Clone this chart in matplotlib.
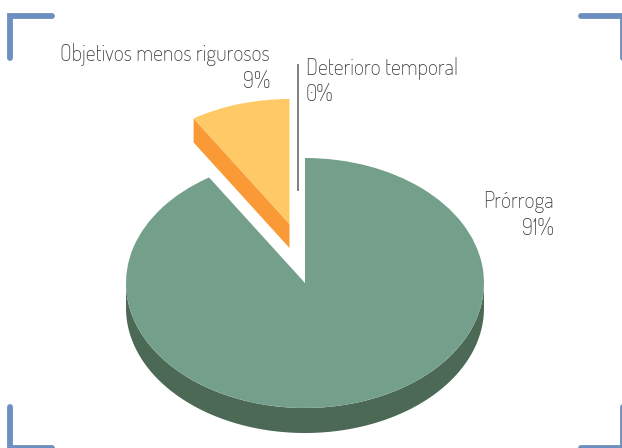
import numpy as np
import matplotlib
matplotlib.use('Agg')
import matplotlib.pyplot as plt
from matplotlib.patches import Wedge, Polygon
from matplotlib.transforms import Affine2D

categories = ['Prórroga', 'Objetivos menos rigurosos', 'Deterioro temporal']
values = [91, 9, 0]
labels = ['91%', '9%', '0%']

W, H = 622, 448
RX, RY, DEPTH = 179, 125, 25
GREEN, GREEN_DARK = '#739F8B', '#4B6955'
YELLOW, ORANGE = '#FFC966', '#FA9A37'
BLUE = '#6E8FC0'
TEXT = '#404040'

plt.rcParams['font.family'] = ['Dosis', 'Lato', 'DejaVu Sans']
fig = plt.figure(figsize=(W / 100, H / 100), dpi=100)
ax = fig.add_axes([0, 0, 1, 1])
ax.set_xlim(0, W)
ax.set_ylim(H, 0)
ax.axis('off')


def pt(cx, cy, angle):
    a = np.radians(angle)
    return np.column_stack([cx + RX * np.cos(a), cy - RY * np.sin(a)])


def top_face(cx, cy, t1, t2, color):
    # unit wedge stretched into the ellipse, y flipped because the axis runs down
    tr = Affine2D().scale(RX, -RY).translate(cx, cy) + ax.transData
    ax.add_patch(Wedge((0, 0), 1, t1, t2, transform=tr, fc=color, ec='none', zorder=3))


def side_arc(cx, cy, t1, t2, color):
    t = np.linspace(t1, t2, 200)
    up = pt(cx, cy, t)
    low = up[::-1] + [0, DEPTH]
    ax.add_patch(Polygon(np.vstack([up, low]), fc=color, ec='none', zorder=2))


# angles run counter clockwise, first slice ends at 12 o'clock
sweep = [v / sum(values) * 360 for v in values]
cut = 90 + sweep[1]

# main slice
cx, cy = 305, 283
side_arc(cx, cy, 180, 360, GREEN_DARK)
top_face(cx, cy, cut, 90 + 360, GREEN)

# exploded slice
cx2, cy2 = 289.5, 224
edge = pt(cx2, cy2, [cut])[0]
apex = np.array([cx2, cy2])
ax.add_patch(Polygon([edge, apex, apex + [0, DEPTH - 1], edge + [0, DEPTH - 1]],
                     fc=ORANGE, ec='none', zorder=2))
top_face(cx2, cy2, 90, cut, YELLOW)

# leader of the empty slice
ax.plot([298, 298], [65, 190], color='#7F7F7F', lw=1.4, zorder=4)

fs = 15.8
ax.text(554, 208, categories[0], ha='right', va='baseline', fontsize=fs, color=TEXT)
ax.text(554, 235, labels[0], ha='right', va='baseline', fontsize=fs, color=TEXT)
ax.text(270, 61, categories[1], ha='right', va='baseline', fontsize=fs, color=TEXT)
ax.text(270, 88, labels[1], ha='right', va='baseline', fontsize=fs, color=TEXT)
ax.text(306, 75, categories[2], ha='left', va='baseline', fontsize=fs, color=TEXT)
ax.text(306, 101, labels[2], ha='left', va='baseline', fontsize=fs, color=TEXT)

# corner brackets
LW = 4.2
for xs, ys in [([10, 10, 52], [58, 16, 16]), ([581, 622.5, 622.5], [16, 16, 58]),
               ([10, 10, 52], [407, 448.5, 448.5]), ([581, 622.5, 622.5], [448.5, 448.5, 407])]:
    ax.plot(xs, ys, color=BLUE, lw=LW, solid_capstyle='round', solid_joinstyle='miter')

fig.savefig('out.png', dpi=100)
